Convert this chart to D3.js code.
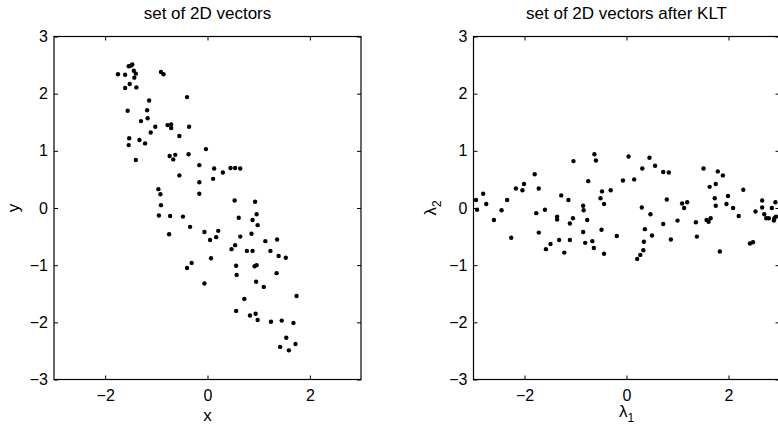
<!DOCTYPE html>
<html>
<head>
<meta charset="utf-8">
<script src="https://cdn.jsdelivr.net/npm/d3@7"></script>
<style>
  body { margin: 0; background: #fff; }
  svg { display: block; }
  text { font-family: "Liberation Sans", Arial, Helvetica, sans-serif; fill: #000; }
</style>
</head>
<body>
<svg id="chart" width="778" height="425"></svg>
<script>
// tick values shared by both panels
var xTicks = [-2, 0, 2];
var yTicks = [-3, -2, -1, 0, 1, 2, 3];

// left panel: original vectors
var origX = [-1.75, -1.61, -1.54, -1.50, -1.47, -1.44, -1.40, -1.43, -1.52, -1.61, -1.39, -0.91, -0.86,
  -0.40, -1.14, -1.56, -1.18, -1.30, -1.17, -1.02, -1.11, -0.78, -0.71, -0.71, -0.36, -0.55,
  -1.53, -1.33, -1.54, -1.22, -0.03, -1.40, -0.74, -0.63, -0.67, -0.37, -0.16, 0.13, -0.55,
  0.11, -0.16, -0.96, -0.92, -0.16, -0.91, 0.30, 0.45, 0.54, 0.64, 0.53, 0.93,
  -0.95, -0.73, -0.48, -0.34, -0.75, -0.06, 0.05, 0.17, 0.21, 0.07, -0.31, -0.40, -0.06,
  0.61, 0.88, 0.96, 0.98, 0.64, 0.86, 0.54, 0.47, 0.77, 0.88, 1.13, 1.36, 1.23, 1.39, 1.53,
  0.56, 0.92, 0.96, 0.57, 1.35, 0.95, 1.10, 0.72, 1.74, 0.56, 0.83, 0.94, 0.98, 1.24, 1.45,
  1.68, 1.54, 1.72, 1.42, 1.59];
var origY = [2.34, 2.33, 2.48, 2.49, 2.51, 2.40, 2.35, 2.28, 2.17, 2.10, 2.11, 2.38, 2.34,
  1.94, 1.88, 1.70, 1.71, 1.52, 1.57, 1.42, 1.32, 1.45, 1.46, 1.40, 1.42, 1.26,
  1.22, 1.19, 1.10, 1.13, 1.03, 0.84, 0.91, 0.93, 0.85, 0.94, 0.75, 0.69, 0.57,
  0.51, 0.45, 0.33, 0.24, 0.25, 0.05, 0.62, 0.70, 0.70, 0.69, 0.13, 0.11,
  -0.13, -0.14, -0.15, -0.33, -0.46, -0.42, -0.56, -0.51, -0.40, -0.88, -0.96, -1.05, -1.32,
  -0.17, -0.21, -0.11, -0.30, -0.50, -0.45, -0.65, -0.72, -0.75, -0.75, -0.58, -0.55, -0.75, -0.84, -0.87,
  -1.01, -1.02, -1.00, -1.17, -1.14, -1.29, -1.38, -1.59, -1.54, -1.80, -1.88, -1.85, -1.96, -1.99, -1.97,
  -2.01, -2.27, -2.38, -2.43, -2.49];

// right panel: vectors after KLT
var kltX = [-2.95, -2.93, -2.81, -2.75, -2.60, -2.45, -2.34, -2.26, -2.17, -2.04, -2.01, -1.80, -1.72,
  -1.77, -1.72, -1.60, -1.58, -1.49, -1.36, -1.36, -1.32, -1.28, -1.22, -1.14, -1.11, -1.05,
  -1.11, -1.04, -0.85, -0.84, -0.77, -0.75, -0.85, -0.81, -0.67, -0.64, -0.63, -0.60, -0.51,
  -0.48, -0.44, -0.49, -0.44, -0.31, -0.19, -0.07, 0.04, 0.45, 0.31, 0.56, 0.72, 0.83, 0.15,
  0.79, 0.30, 0.47, 0.36, 0.50, 0.34, 0.33, 0.27, 0.21, 0.72, 0.87, 1.00, 1.09, 1.19, 1.13,
  1.51, 1.79, 1.89, 1.63, 1.75, 1.36, 1.38, 1.57, 1.61, 1.65, 1.73, 1.75, 1.99, 1.96, 2.09,
  2.20, 2.29, 1.83, 2.42, 2.48, 2.53, 2.66, 2.66, 2.70, 2.74, 2.79, 2.85, 2.92, 2.90, 2.93, 2.89];
var kltY = [0.14, -0.03, 0.25, 0.07, -0.21, -0.04, 0.14, -0.52, 0.34, 0.31, 0.42, 0.59, 0.34,
  -0.09, -0.43, -0.03, -0.72, -0.63, -0.15, -0.20, -0.56, 0.22, -0.78, 0.14, -0.27, -0.18,
  -0.56, 0.82, 0.04, -0.04, -0.21, 0.47, -0.42, -0.61, -0.58, -0.70, 0.94, 0.83, 0.17,
  0.29, 0.07, -0.38, -0.80, 0.31, -0.49, 0.48, 0.90, 0.88, 0.69, 0.74, 0.63, 0.62, 0.50,
  0.15, 0.01, -0.11, -0.37, -0.48, -0.59, -0.74, -0.82, -0.89, -0.28, -0.55, -0.22, 0.08, 0.10, 0.00,
  0.69, 0.64, 0.57, 0.37, 0.42, -0.25, -0.50, -0.21, -0.24, -0.18, 0.17, 0.04, 0.21, 0.07, 0.00,
  -0.14, 0.32, -0.76, -0.62, -0.60, -0.06, 0.13, 0.01, -0.11, -0.18, -0.18, 0.00, 0.10, -0.18, -0.15, -0.22];

var svg = d3.select('#chart');
var fmt = d3.format('d');

function panel(left, right, xs, ys, title) {
    var top = 36.5, bottom = 379.5;
    var x = d3.scaleLinear().domain([-3, 3]).range([left, right]);
    var y = d3.scaleLinear().domain([-3, 3]).range([bottom, top]);
    var g = svg.append('g');

    // ticks point inward on all four sides
    g.append('g').attr('transform', 'translate(0,' + bottom + ')')
        .call(d3.axisBottom(x).tickValues(xTicks).tickFormat(fmt).tickSizeInner(-4).tickSizeOuter(0).tickPadding(10));
    g.append('g').attr('transform', 'translate(0,' + top + ')')
        .call(d3.axisTop(x).tickValues(xTicks).tickSizeInner(-4).tickSizeOuter(0).tickFormat(''));
    g.append('g').attr('transform', 'translate(' + left + ',0)')
        .call(d3.axisLeft(y).tickValues(yTicks).tickFormat(fmt).tickSizeInner(-4).tickSizeOuter(0).tickPadding(6));
    g.append('g').attr('transform', 'translate(' + right + ',0)')
        .call(d3.axisRight(y).tickValues(yTicks).tickSizeInner(-4).tickSizeOuter(0).tickFormat(''));

    g.selectAll('.domain').remove();
    g.selectAll('.tick line').attr('stroke', '#000');
    g.selectAll('.tick text').style('font-size', '16px').attr('fill', '#000');

    g.append('rect')
        .attr('x', left).attr('y', top)
        .attr('width', right - left).attr('height', bottom - top)
        .attr('fill', 'none').attr('stroke', '#000').attr('stroke-width', 1.2);

    g.selectAll('.dot').data(d3.range(xs.length)).enter().append('circle')
        .attr('class', 'dot')
        .attr('cx', function(i) { return x(xs[i]); })
        .attr('cy', function(i) { return y(ys[i]); })
        .attr('r', 2.2)
        .attr('fill', '#000');

    g.append('text')
        .attr('x', (left + right) / 2).attr('y', 19)
        .attr('text-anchor', 'middle')
        .style('font-size', '17px')
        .text(title);

    return g;
}

var g1 = panel(54, 361, origX, origY, 'set of 2D vectors');
var g2 = panel(473.5, 779.5, kltX, kltY, 'set of 2D vectors after KLT');

// axis labels
g1.append('text').attr('x', 207.5).attr('y', 421).attr('text-anchor', 'middle')
    .style('font-size', '17px').text('x');
g1.append('text').attr('transform', 'translate(19,208) rotate(-90)').attr('text-anchor', 'middle')
    .style('font-size', '17px').text('y');

var xl = g2.append('text').attr('x', 626.5).attr('y', 417).attr('text-anchor', 'middle')
    .style('font-size', '17px');
xl.append('tspan').text('λ');
xl.append('tspan').attr('dy', 5).style('font-size', '12px').text('1');

var yl = g2.append('text').attr('transform', 'translate(436,208) rotate(-90)').attr('text-anchor', 'middle')
    .style('font-size', '17px');
yl.append('tspan').text('λ');
yl.append('tspan').attr('dy', 5).style('font-size', '12px').text('2');
</script>
</body>
</html>
